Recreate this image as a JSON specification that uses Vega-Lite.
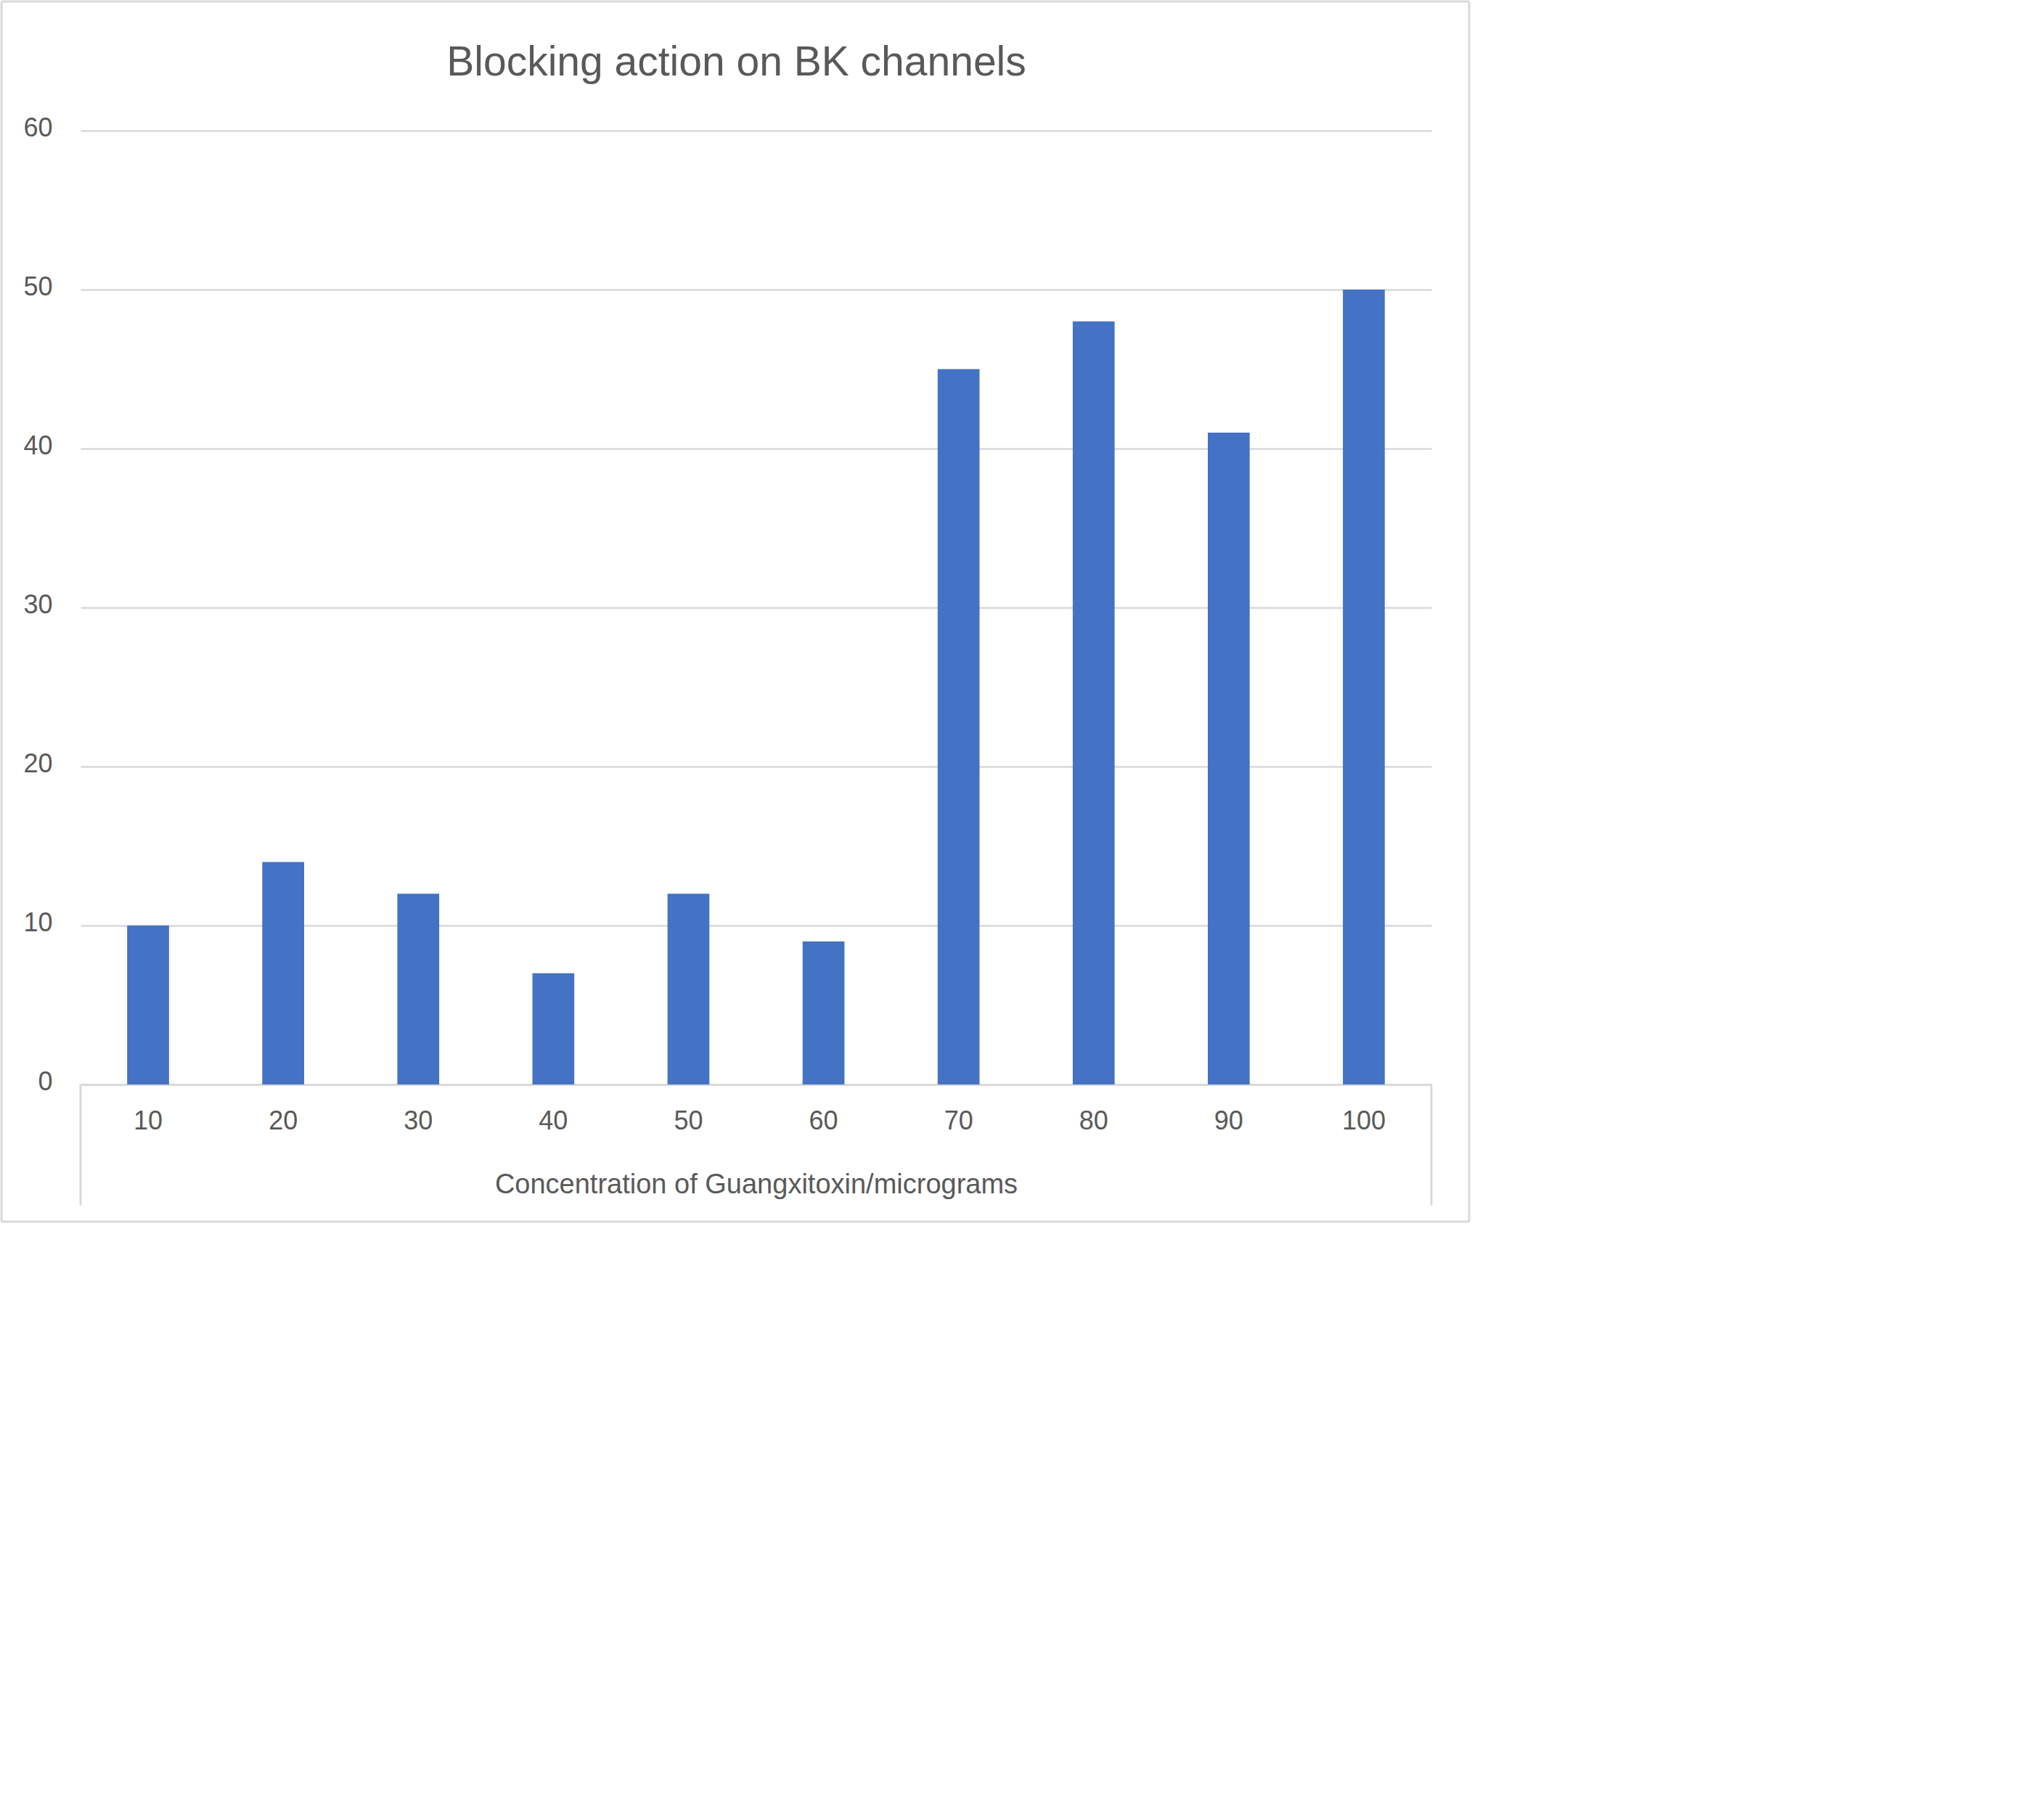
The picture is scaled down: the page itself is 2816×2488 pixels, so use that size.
{
  "$schema": "https://vega.github.io/schema/vega-lite/v6.json",
  "autosize": "none",
  "width": 1861,
  "height": 1314,
  "padding": {"left": 111, "top": 180, "right": 844, "bottom": 994},
  "background": "white",
  "title": {
    "text": "Blocking action on BK channels",
    "font": "Liberation Sans",
    "fontSize": 57,
    "fontWeight": "normal",
    "color": "#595959",
    "anchor": "middle",
    "baseline": "alphabetic",
    "offset": -161,
    "dx": -27
  },
  "config": {
    "view": {"stroke": null},
    "axis": {
      "labelFont": "Liberation Sans",
      "labelFontSize": 36,
      "labelColor": "#595959",
      "titleFont": "Liberation Sans",
      "titleFontSize": 38,
      "titleFontWeight": "normal",
      "titleColor": "#595959"
    }
  },
  "data": {
    "values": [
      {"concentration": 10, "blocking": 10},
      {"concentration": 20, "blocking": 14},
      {"concentration": 30, "blocking": 12},
      {"concentration": 40, "blocking": 7},
      {"concentration": 50, "blocking": 12},
      {"concentration": 60, "blocking": 9},
      {"concentration": 70, "blocking": 45},
      {"concentration": 80, "blocking": 48},
      {"concentration": 90, "blocking": 41},
      {"concentration": 100, "blocking": 50}
    ]
  },
  "layer": [
    {
      "mark": {"type": "bar", "color": "#4472C4"},
      "encoding": {
        "x": {
          "field": "concentration",
          "type": "ordinal",
          "scale": {"paddingInner": 0.69, "paddingOuter": 0.345},
          "axis": {
            "title": "Concentration of Guangxitoxin/micrograms",
            "labelAngle": 0,
            "ticks": false,
            "domain": true,
            "domainColor": "#D9D9D9",
            "domainWidth": 3,
            "labelPadding": 33,
            "titlePadding": 51,
            "grid": false
          }
        },
        "y": {
          "field": "blocking",
          "type": "quantitative",
          "scale": {"domain": [0, 60], "nice": false},
          "axis": {
            "title": null,
            "domain": false,
            "ticks": false,
            "labelPadding": 39,
            "labelOffset": -4,
            "grid": true,
            "gridColor": "#D9D9D9",
            "gridWidth": 2.5,
            "values": [0, 10, 20, 30, 40, 50, 60]
          }
        }
      }
    },
    {
      "data": {"values": [{}]},
      "mark": {"type": "rule", "color": "#D9D9D9", "strokeWidth": 3},
      "encoding": {
        "x": {"datum": 10, "type": "ordinal", "bandPosition": -1.113},
        "y": {"datum": 0, "type": "quantitative"},
        "y2": {"datum": -7.6}
      }
    },
    {
      "data": {"values": [{}]},
      "mark": {"type": "rule", "color": "#D9D9D9", "strokeWidth": 3},
      "encoding": {
        "x": {"datum": 100, "type": "ordinal", "bandPosition": 2.113},
        "y": {"datum": 0, "type": "quantitative"},
        "y2": {"datum": -7.6}
      }
    },
    {
      "data": {"values": [{}]},
      "mark": {"type": "rule", "color": "#D9D9D9", "strokeWidth": 3},
      "encoding": {
        "x": {"datum": 10, "type": "ordinal", "bandPosition": -3.0},
        "y": {"datum": 68.13, "type": "quantitative"},
        "y2": {"datum": -8.63}
      }
    },
    {
      "data": {"values": [{}]},
      "mark": {"type": "rule", "color": "#D9D9D9", "strokeWidth": 3},
      "encoding": {
        "x": {"datum": 100, "type": "ordinal", "bandPosition": 3.014},
        "y": {"datum": 68.13, "type": "quantitative"},
        "y2": {"datum": -8.63}
      }
    },
    {
      "data": {"values": [{}]},
      "mark": {"type": "rule", "color": "#D9D9D9", "strokeWidth": 3},
      "encoding": {
        "x": {"datum": 10, "type": "ordinal", "bandPosition": -3.0},
        "x2": {"datum": 100, "bandPosition": 3.014},
        "y": {"datum": 68.13, "type": "quantitative"}
      }
    },
    {
      "data": {"values": [{}]},
      "mark": {"type": "rule", "color": "#D9D9D9", "strokeWidth": 3},
      "encoding": {
        "x": {"datum": 10, "type": "ordinal", "bandPosition": -3.0},
        "x2": {"datum": 100, "bandPosition": 3.014},
        "y": {"datum": -8.63, "type": "quantitative"}
      }
    }
  ]
}
